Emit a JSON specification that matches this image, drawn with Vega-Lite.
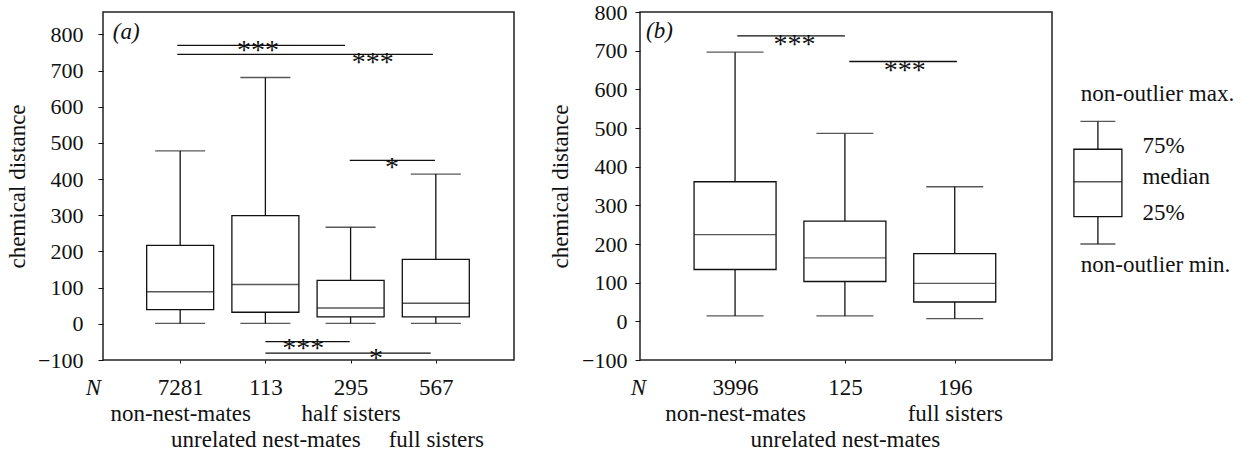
{
  "$schema": "https://vega.github.io/schema/vega-lite/v6.json",
  "padding": {"left": 5, "top": 0, "right": 0, "bottom": 0},
  "config": {
    "font": "Liberation Serif",
    "view": {"stroke": "#222", "strokeWidth": 1.5},
    "text": {"font": "Liberation Serif"},
    "axis": {"grid": false, "domain": false, "labelOverlap": false, "labelLimit": 400, "labelColor": "#111", "titleColor": "#111", "tickColor": "#111", "labelFont": "Liberation Serif", "titleFont": "Liberation Serif", "titleFontWeight": "normal"}
  },
  "datasets": {
    "boxA": [
      {"pos": 1, "min": 1, "q1": 39, "median": 89, "q3": 217, "max": 478},
      {"pos": 2, "min": 1, "q1": 32, "median": 109, "q3": 299, "max": 681},
      {"pos": 3, "min": 1, "q1": 19, "median": 44, "q3": 120, "max": 267},
      {"pos": 4, "min": 1, "q1": 19, "median": 57, "q3": 178, "max": 414}
    ],
    "sigA": [
      {"pos": 0.966, "pos2": 2.935, "y": 770},
      {"pos": 0.966, "pos2": 3.966, "y": 745},
      {"pos": 2.99, "pos2": 3.99, "y": 452},
      {"pos": 2.0, "pos2": 2.99, "y": -49},
      {"pos": 2.0, "pos2": 3.94, "y": -81}
    ],
    "starsA": [
      {"pos": 1.913, "y": 768, "label": "***"},
      {"pos": 3.259, "y": 734, "label": "***"},
      {"pos": 3.485, "y": 444, "label": "*"},
      {"pos": 2.443, "y": -55, "label": "***"},
      {"pos": 3.298, "y": -84, "label": "*"}
    ],
    "tagA": [{"pos": 0.21, "y": 808, "label": "(a)"}],
    "boxB": [
      {"pos": 1, "min": 14, "q1": 134, "median": 224, "q3": 361, "max": 696},
      {"pos": 2, "min": 14, "q1": 103, "median": 164, "q3": 259, "max": 486},
      {"pos": 3, "min": 7, "q1": 50, "median": 98, "q3": 175, "max": 348}
    ],
    "sigB": [
      {"pos": 1.02, "pos2": 2.0, "y": 738},
      {"pos": 2.04, "pos2": 3.02, "y": 672}
    ],
    "starsB": [
      {"pos": 1.54, "y": 728, "label": "***"},
      {"pos": 2.544, "y": 661, "label": "***"}
    ],
    "tagB": [{"pos": 0.19, "y": 752, "label": "(b)"}],
    "legendBox": [{"pos": 39, "min": 200, "q1": 271, "median": 361, "q3": 445, "max": 517}],
    "legendText": [
      {"pos": 21, "y": 588, "label": "non-outlier max."},
      {"pos": 86, "y": 454, "label": "75%"},
      {"pos": 86, "y": 373, "label": "median"},
      {"pos": 86, "y": 280, "label": "25%"},
      {"pos": 21, "y": 146, "label": "non-outlier min."}
    ]
  },
  "spacing": 33,
  "hconcat": [
    {
      "width": 411,
      "height": 348,
      "layer": [
        {
          "data": {"name": "boxA"},
          "mark": {"type": "rule", "color": "#111", "strokeWidth": 1.3},
          "encoding": {
            "x": {"field": "pos", "type": "quantitative", "scale": {"domain": [0.153, 4.859], "nice": false, "zero": false},
              "axis": {"values": [1, 2, 3, 4], "labelOverlap": false, "labelLimit": 400, "tickSize": 3, "labelPadding": 13, "labelFontSize": 23, "labelLineHeight": 26,
                "labelExpr": "datum.value == 1 ? ['7281', 'non-nest-mates'] : datum.value == 2 ? ['113', '\u200b', 'unrelated nest-mates'] : datum.value == 3 ? ['295', 'half sisters'] : ['567', '\u200b', 'full sisters']",
                "title": "N", "titleFontStyle": "italic", "titleFontSize": 23, "titleX": -10, "titleY": 27, "titleAlign": "center", "titleBaseline": "middle"}},
            "y": {"field": "min", "type": "quantitative", "scale": {"domain": [-100, 862], "nice": false, "zero": false},
              "axis": {"values": [-100, 0, 100, 200, 300, 400, 500, 600, 700, 800], "labelOverlap": false, "tickSize": 5, "labelPadding": 15, "labelFontSize": 22, "title": "chemical distance", "titleFontSize": 23, "titlePadding": 8}},
            "y2": {"field": "max"}
          }
        },
        {
          "data": {"name": "boxA"},
          "mark": {"type": "bar", "width": 67, "fill": "white", "stroke": "#111", "strokeWidth": 1.3},
          "encoding": {
            "x": {"field": "pos", "type": "quantitative", "axis": {"title": "N"}},
            "y": {"field": "q1", "type": "quantitative", "axis": {"values": [-100, 0, 100, 200, 300, 400, 500, 600, 700, 800], "labelOverlap": false, "tickSize": 5, "labelPadding": 15, "labelFontSize": 22, "title": "chemical distance", "titleFontSize": 23, "titlePadding": 8}},
            "y2": {"field": "q3"}
          }
        },
        {
          "data": {"name": "boxA"},
          "mark": {"type": "tick", "orient": "horizontal", "size": 67, "thickness": 1.5, "color": "#111"},
          "encoding": {
            "x": {"field": "pos", "type": "quantitative", "axis": {"title": "N"}},
            "y": {"field": "median", "type": "quantitative", "axis": {"values": [-100, 0, 100, 200, 300, 400, 500, 600, 700, 800], "labelOverlap": false, "tickSize": 5, "labelPadding": 15, "labelFontSize": 22, "title": "chemical distance", "titleFontSize": 23, "titlePadding": 8}}
          }
        },
        {
          "data": {"name": "boxA"},
          "mark": {"type": "tick", "orient": "horizontal", "size": 50, "thickness": 1.3, "color": "#111"},
          "encoding": {
            "x": {"field": "pos", "type": "quantitative", "axis": {"title": "N"}},
            "y": {"field": "min", "type": "quantitative", "axis": {"values": [-100, 0, 100, 200, 300, 400, 500, 600, 700, 800], "labelOverlap": false, "tickSize": 5, "labelPadding": 15, "labelFontSize": 22, "title": "chemical distance", "titleFontSize": 23, "titlePadding": 8}}
          }
        },
        {
          "data": {"name": "boxA"},
          "mark": {"type": "tick", "orient": "horizontal", "size": 50, "thickness": 1.3, "color": "#111"},
          "encoding": {
            "x": {"field": "pos", "type": "quantitative", "axis": {"title": "N"}},
            "y": {"field": "max", "type": "quantitative", "axis": {"values": [-100, 0, 100, 200, 300, 400, 500, 600, 700, 800], "labelOverlap": false, "tickSize": 5, "labelPadding": 15, "labelFontSize": 22, "title": "chemical distance", "titleFontSize": 23, "titlePadding": 8}}
          }
        },
        {
          "data": {"name": "sigA"},
          "mark": {"type": "rule", "color": "#111", "strokeWidth": 1.3},
          "encoding": {
            "x": {"field": "pos", "type": "quantitative", "axis": {"title": "N"}},
            "x2": {"field": "pos2"},
            "y": {"field": "y", "type": "quantitative", "axis": {"values": [-100, 0, 100, 200, 300, 400, 500, 600, 700, 800], "labelOverlap": false, "tickSize": 5, "labelPadding": 15, "labelFontSize": 22, "title": "chemical distance", "titleFontSize": 23, "titlePadding": 8}}
          }
        },
        {
          "data": {"name": "starsA"},
          "mark": {"type": "text", "fontSize": 28, "baseline": "alphabetic", "dy": 13, "color": "#111"},
          "encoding": {
            "x": {"field": "pos", "type": "quantitative", "axis": {"title": "N"}},
            "y": {"field": "y", "type": "quantitative", "axis": {"values": [-100, 0, 100, 200, 300, 400, 500, 600, 700, 800], "labelOverlap": false, "tickSize": 5, "labelPadding": 15, "labelFontSize": 22, "title": "chemical distance", "titleFontSize": 23, "titlePadding": 8}},
            "text": {"field": "label"}
          }
        },
        {
          "data": {"name": "tagA"},
          "mark": {"type": "text", "fontSize": 23, "fontStyle": "italic", "align": "left", "baseline": "middle", "color": "#111"},
          "encoding": {
            "x": {"field": "pos", "type": "quantitative", "axis": {"title": "N"}},
            "y": {"field": "y", "type": "quantitative", "axis": {"values": [-100, 0, 100, 200, 300, 400, 500, 600, 700, 800], "labelOverlap": false, "tickSize": 5, "labelPadding": 15, "labelFontSize": 22, "title": "chemical distance", "titleFontSize": 23, "titlePadding": 8}},
            "text": {"field": "label"}
          }
        }
      ]
    },
    {
      "spacing": 3,
      "hconcat": [
        {
          "width": 412,
          "height": 348,
          "layer": [
            {
              "data": {"name": "boxB"},
              "mark": {"type": "rule", "color": "#111", "strokeWidth": 1.3},
              "encoding": {
                "x": {"field": "pos", "type": "quantitative", "scale": {"domain": [0.18, 3.84], "nice": false, "zero": false},
                  "axis": {"values": [1, 2, 3], "labelOverlap": false, "labelLimit": 400, "tickSize": 3, "labelPadding": 13, "labelFontSize": 23, "labelLineHeight": 26,
                    "labelExpr": "datum.value == 1 ? ['3996', 'non-nest-mates'] : datum.value == 2 ? ['125', '\u200b', 'unrelated nest-mates'] : ['196', 'full sisters']",
                    "title": "N", "titleFontStyle": "italic", "titleFontSize": 23, "titleX": -2, "titleY": 27, "titleAlign": "center", "titleBaseline": "middle"}},
                "y": {"field": "min", "type": "quantitative", "scale": {"domain": [-100, 800], "nice": false, "zero": false},
                  "axis": {"values": [-100, 0, 100, 200, 300, 400, 500, 600, 700, 800], "labelOverlap": false, "tickSize": 5, "labelPadding": 8, "labelFontSize": 22, "title": "chemical distance", "titleFontSize": 23, "titlePadding": 9}},
                "y2": {"field": "max"}
              }
            },
            {
              "data": {"name": "boxB"},
              "mark": {"type": "bar", "width": 82, "fill": "white", "stroke": "#111", "strokeWidth": 1.3},
              "encoding": {
                "x": {"field": "pos", "type": "quantitative", "axis": {"title": "N"}},
                "y": {"field": "q1", "type": "quantitative", "axis": {"values": [-100, 0, 100, 200, 300, 400, 500, 600, 700, 800], "labelOverlap": false, "tickSize": 5, "labelPadding": 8, "labelFontSize": 22, "title": "chemical distance", "titleFontSize": 23, "titlePadding": 9}},
                "y2": {"field": "q3"}
              }
            },
            {
              "data": {"name": "boxB"},
              "mark": {"type": "tick", "orient": "horizontal", "size": 82, "thickness": 1.3, "color": "#111"},
              "encoding": {
                "x": {"field": "pos", "type": "quantitative", "axis": {"title": "N"}},
                "y": {"field": "median", "type": "quantitative", "axis": {"values": [-100, 0, 100, 200, 300, 400, 500, 600, 700, 800], "labelOverlap": false, "tickSize": 5, "labelPadding": 8, "labelFontSize": 22, "title": "chemical distance", "titleFontSize": 23, "titlePadding": 9}}
              }
            },
            {
              "data": {"name": "boxB"},
              "mark": {"type": "tick", "orient": "horizontal", "size": 57, "thickness": 1.3, "color": "#111"},
              "encoding": {
                "x": {"field": "pos", "type": "quantitative", "axis": {"title": "N"}},
                "y": {"field": "min", "type": "quantitative", "axis": {"values": [-100, 0, 100, 200, 300, 400, 500, 600, 700, 800], "labelOverlap": false, "tickSize": 5, "labelPadding": 8, "labelFontSize": 22, "title": "chemical distance", "titleFontSize": 23, "titlePadding": 9}}
              }
            },
            {
              "data": {"name": "boxB"},
              "mark": {"type": "tick", "orient": "horizontal", "size": 57, "thickness": 1.3, "color": "#111"},
              "encoding": {
                "x": {"field": "pos", "type": "quantitative", "axis": {"title": "N"}},
                "y": {"field": "max", "type": "quantitative", "axis": {"values": [-100, 0, 100, 200, 300, 400, 500, 600, 700, 800], "labelOverlap": false, "tickSize": 5, "labelPadding": 8, "labelFontSize": 22, "title": "chemical distance", "titleFontSize": 23, "titlePadding": 9}}
              }
            },
            {
              "data": {"name": "sigB"},
              "mark": {"type": "rule", "color": "#111", "strokeWidth": 1.3},
              "encoding": {
                "x": {"field": "pos", "type": "quantitative", "axis": {"title": "N"}},
                "x2": {"field": "pos2"},
                "y": {"field": "y", "type": "quantitative", "axis": {"values": [-100, 0, 100, 200, 300, 400, 500, 600, 700, 800], "labelOverlap": false, "tickSize": 5, "labelPadding": 8, "labelFontSize": 22, "title": "chemical distance", "titleFontSize": 23, "titlePadding": 9}}
              }
            },
            {
              "data": {"name": "starsB"},
              "mark": {"type": "text", "fontSize": 28, "baseline": "alphabetic", "dy": 13, "color": "#111"},
              "encoding": {
                "x": {"field": "pos", "type": "quantitative", "axis": {"title": "N"}},
                "y": {"field": "y", "type": "quantitative", "axis": {"values": [-100, 0, 100, 200, 300, 400, 500, 600, 700, 800], "labelOverlap": false, "tickSize": 5, "labelPadding": 8, "labelFontSize": 22, "title": "chemical distance", "titleFontSize": 23, "titlePadding": 9}},
                "text": {"field": "label"}
              }
            },
            {
              "data": {"name": "tagB"},
              "mark": {"type": "text", "fontSize": 23, "fontStyle": "italic", "align": "left", "baseline": "middle", "color": "#111"},
              "encoding": {
                "x": {"field": "pos", "type": "quantitative", "axis": {"title": "N"}},
                "y": {"field": "y", "type": "quantitative", "axis": {"values": [-100, 0, 100, 200, 300, 400, 500, 600, 700, 800], "labelOverlap": false, "tickSize": 5, "labelPadding": 8, "labelFontSize": 22, "title": "chemical distance", "titleFontSize": 23, "titlePadding": 9}},
                "text": {"field": "label"}
              }
            }
          ]
        },
        {
          "width": 186,
          "height": 348,
          "view": {"stroke": null},
          "layer": [
            {
              "data": {"name": "legendBox"},
              "mark": {"type": "rule", "color": "#111", "strokeWidth": 1.3},
              "encoding": {
                "x": {"field": "pos", "type": "quantitative", "scale": {"domain": [0, 186], "nice": false, "zero": false}, "axis": null},
                "y": {"field": "min", "type": "quantitative", "scale": {"domain": [-100, 800], "nice": false, "zero": false}, "axis": null},
                "y2": {"field": "max"}
              }
            },
            {
              "data": {"name": "legendBox"},
              "mark": {"type": "bar", "width": 48, "fill": "white", "stroke": "#111", "strokeWidth": 1.3},
              "encoding": {
                "x": {"field": "pos", "type": "quantitative", "axis": null},
                "y": {"field": "q1", "type": "quantitative", "axis": null},
                "y2": {"field": "q3"}
              }
            },
            {
              "data": {"name": "legendBox"},
              "mark": {"type": "tick", "orient": "horizontal", "size": 48, "thickness": 1.3, "color": "#111"},
              "encoding": {
                "x": {"field": "pos", "type": "quantitative", "axis": null},
                "y": {"field": "median", "type": "quantitative", "axis": null}
              }
            },
            {
              "data": {"name": "legendBox"},
              "mark": {"type": "tick", "orient": "horizontal", "size": 35, "thickness": 1.3, "color": "#111"},
              "encoding": {
                "x": {"field": "pos", "type": "quantitative", "axis": null},
                "y": {"field": "min", "type": "quantitative", "axis": null}
              }
            },
            {
              "data": {"name": "legendBox"},
              "mark": {"type": "tick", "orient": "horizontal", "size": 35, "thickness": 1.3, "color": "#111"},
              "encoding": {
                "x": {"field": "pos", "type": "quantitative", "axis": null},
                "y": {"field": "max", "type": "quantitative", "axis": null}
              }
            },
            {
              "data": {"name": "legendText"},
              "mark": {"type": "text", "fontSize": 23, "align": "left", "baseline": "middle", "color": "#111"},
              "encoding": {
                "x": {"field": "pos", "type": "quantitative", "axis": null},
                "y": {"field": "y", "type": "quantitative", "axis": null},
                "text": {"field": "label"}
              }
            }
          ]
        }
      ]
    }
  ]
}
